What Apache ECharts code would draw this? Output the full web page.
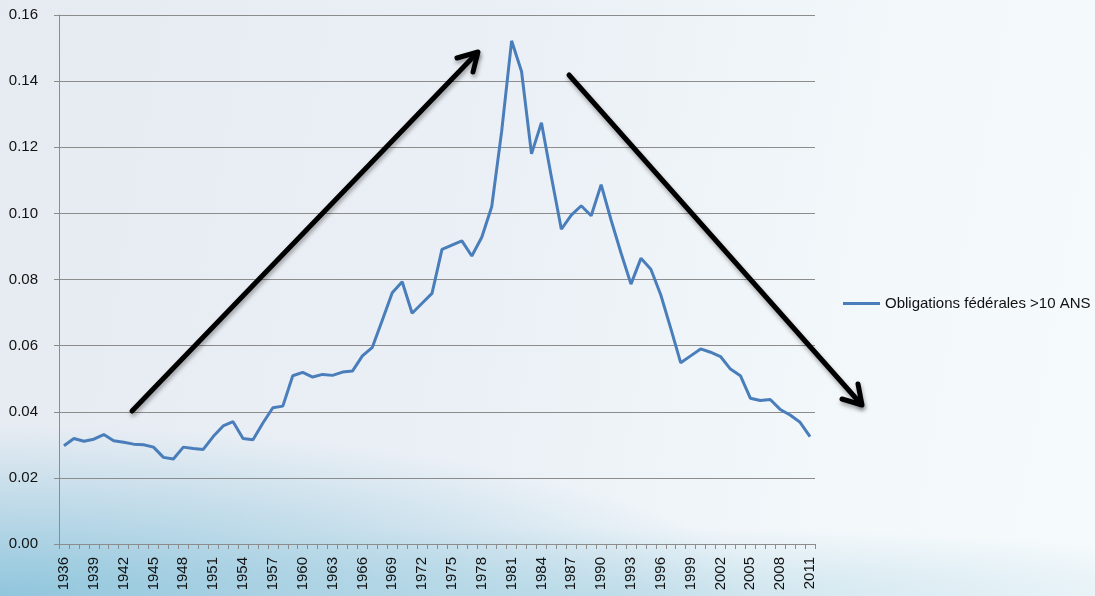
<!DOCTYPE html>
<html>
<head>
<meta charset="utf-8">
<script src="https://cdn.jsdelivr.net/npm/echarts@6/dist/echarts.min.js"></script>
<style>
  html, body { margin: 0; padding: 0; }
  body {
    width: 1095px; height: 596px; overflow: hidden;
    background:
      radial-gradient(ellipse 760px 170px at 0% 100%, rgba(140, 196, 219, 0.95), rgba(140, 196, 219, 0) 100%),
      radial-gradient(ellipse 700px 70px at 55% 100%, rgba(185, 218, 231, 0.7), rgba(185, 218, 231, 0) 100%),
      linear-gradient(100deg, #e6ebf2 0%, #ebf0f6 45%, #f3f8fb 78%, #f5fafc 100%);
  }
  #chart { width: 1095px; height: 596px; }
</style>
</head>
<body>
<div id="chart"></div>
<script>
const years = [
  '1936','1937','1938','1939','1940','1941','1942','1943','1944','1945',
  '1946','1947','1948','1949','1950','1951','1952','1953','1954','1955',
  '1956','1957','1958','1959','1960','1961','1962','1963','1964','1965',
  '1966','1967','1968','1969','1970','1971','1972','1973','1974','1975',
  '1976','1977','1978','1979','1980','1981','1982','1983','1984','1985',
  '1986','1987','1988','1989','1990','1991','1992','1993','1994','1995',
  '1996','1997','1998','1999','2000','2001','2002','2003','2004','2005',
  '2006','2007','2008','2009','2010','2011'
];

const bondYield = [
  0.0297, 0.0319, 0.0311, 0.0317, 0.0331, 0.0312, 0.0308, 0.0302, 0.0300, 0.0293,
  0.0262, 0.0257, 0.0293, 0.0289, 0.0286, 0.0325, 0.0357, 0.0370, 0.0319, 0.0315,
  0.0366, 0.0412, 0.0417, 0.0509, 0.0519, 0.0505, 0.0513, 0.0510, 0.0520, 0.0523,
  0.0569, 0.0595, 0.0677, 0.0760, 0.0793, 0.0698, 0.0728, 0.0758, 0.0891, 0.0904,
  0.0917, 0.0871, 0.0928, 0.1020, 0.1248, 0.1522, 0.1429, 0.1180, 0.1274, 0.1110,
  0.0952, 0.0995, 0.1023, 0.0993, 0.1087, 0.0980, 0.0880, 0.0786, 0.0864, 0.0831,
  0.0753, 0.0652, 0.0548, 0.0569, 0.0590, 0.0580, 0.0567, 0.0529, 0.0509, 0.0441,
  0.0434, 0.0437, 0.0407, 0.0390, 0.0368, 0.0325
];

const seriesName = 'Obligations fédérales >10 ANS';

const chart = echarts.init(document.getElementById('chart'));

// hand-drawn trend arrows (overlay shapes in the original slide)
const arrowStyle = {
  stroke: '#000',
  lineWidth: 5,
  lineCap: 'round',
  lineJoin: 'round',
  shadowBlur: 4,
  shadowOffsetX: 1,
  shadowOffsetY: 3,
  shadowColor: 'rgba(0,0,0,0.35)'
};

const option = {
  backgroundColor: 'transparent',
  textStyle: { fontFamily: 'Liberation Sans, Arial, sans-serif' },
  animation: false,
  grid: { left: 59, top: 15, right: 280, bottom: 52, containLabel: false },
  legend: {
    left: 838,
    top: 291,
    icon: 'rect',
    itemWidth: 37,
    itemHeight: 3,
    textStyle: { color: '#111', fontSize: 15 },
    data: [seriesName]
  },
  xAxis: {
    type: 'category',
    data: years,
    boundaryGap: true,
    axisLine: { lineStyle: { color: '#8c8c8c', width: 1 } },
    axisTick: { show: true, interval: 0, length: 5, lineStyle: { color: '#8c8c8c' } },
    axisLabel: {
      interval: 2,
      rotate: 90,
      margin: 13,
      color: '#111',
      fontSize: 15
    },
    splitLine: { show: false }
  },
  yAxis: {
    type: 'value',
    min: 0,
    max: 0.16,
    interval: 0.02,
    axisLine: { show: true, lineStyle: { color: '#8c8c8c', width: 1 } },
    axisTick: { show: true, length: 5, lineStyle: { color: '#8c8c8c' } },
    axisLabel: {
      color: '#111',
      fontSize: 15,
      margin: 21,
      formatter: v => v.toFixed(2)
    },
    splitLine: { lineStyle: { color: '#8c8c8c', width: 1 } }
  },
  series: [
    {
      name: seriesName,
      type: 'line',
      data: bondYield,
      showSymbol: false,
      symbol: 'none',
      lineStyle: { color: '#4a7ebb', width: 3 },
      itemStyle: { color: '#4a7ebb' }
    }
  ],
  graphic: [
    { type: 'line', z: 100, shape: { x1: 132, y1: 411, x2: 477, y2: 53 }, style: arrowStyle },
    { type: 'polyline', z: 100, shape: { points: [[457, 58], [478, 52], [473, 72]] }, style: Object.assign({ fill: null }, arrowStyle) },
    { type: 'line', z: 100, shape: { x1: 569, y1: 75, x2: 861, y2: 404 }, style: arrowStyle },
    { type: 'polyline', z: 100, shape: { points: [[842, 399], [862, 405], [858, 384]] }, style: Object.assign({ fill: null }, arrowStyle) }
  ]
};

chart.setOption(option);
window.addEventListener('resize', () => chart.resize());
</script>
</body>
</html>
